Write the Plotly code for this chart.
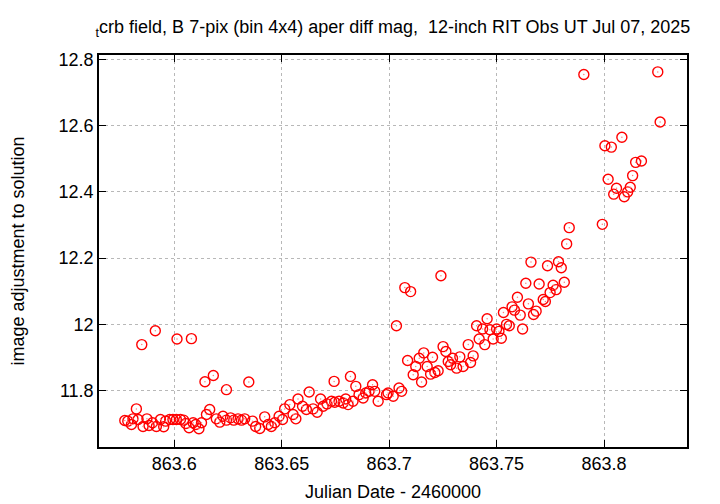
import plotly.graph_objects as go

# Julian Date - 2460000
jd = [
    863.5770, 863.5784, 863.5801, 863.5808, 863.5824, 863.5832, 863.5849, 863.5855, 863.5873, 863.5883,
    863.5899, 863.5912, 863.5917, 863.5936, 863.5951, 863.5960, 863.5979, 863.5994, 863.6010, 863.6013,
    863.6029, 863.6044, 863.6054, 863.6069, 863.6080, 863.6088, 863.6100, 863.6115, 863.6127, 863.6143,
    863.6150, 863.6165, 863.6182, 863.6196, 863.6212, 863.6227, 863.6243, 863.6243, 863.6262, 863.6277,
    863.6297, 863.6313, 863.6328, 863.6347,
    863.6364, 863.6379, 863.6398, 863.6421, 863.6437, 863.6452, 863.6468, 863.6488, 863.6504, 863.6514,
    863.6538, 863.6553, 863.6566, 863.6576, 863.6597, 863.6615, 863.6628, 863.6646, 863.6665, 863.6681,
    863.6693, 863.6711, 863.6732, 863.6744, 863.6747, 863.6767, 863.6786, 863.6798, 863.6809, 863.6820,
    863.6832, 863.6845, 863.6860, 863.6879, 863.6891, 863.6907, 863.6923, 863.6933, 863.6949, 863.6988,
    863.6995, 863.7019, 863.7034, 863.7046, 863.7058, 863.7073, 863.7086, 863.7100, 863.7112, 863.7124,
    863.7140, 863.7151, 863.7161, 863.7177, 863.7193, 863.7202, 863.7213, 863.7228, 863.7241, 863.7251,
    863.7264, 863.7275, 863.7286, 863.7295, 863.7314, 863.7329, 863.7344, 863.7368, 863.7379, 863.7391,
    863.7407, 863.7419, 863.7435, 863.7445, 863.7456, 863.7469, 863.7484, 863.7500, 863.7511, 863.7522,
    863.7532, 863.7546, 863.7559, 863.7572, 863.7583, 863.7597, 863.7610, 863.7621, 863.7636, 863.7648,
    863.7660, 863.7672, 863.7684, 863.7698, 863.7717, 863.7727, 863.7737, 863.7749, 863.7763, 863.7777,
    863.7788, 863.7801, 863.7815, 863.7826, 863.7838, 863.7906, 863.7992, 863.8004, 863.8019, 863.8034,
    863.8045, 863.8058, 863.8083, 863.8094, 863.8110, 863.8122, 863.8133, 863.8147, 863.8174, 863.8250,
    863.8261,
]

# image adjustment to solution (diff mag)
mag = [
    11.710, 11.708, 11.698, 11.715, 11.745, 11.713, 11.939, 11.692, 11.715, 11.695,
    11.703, 11.981, 11.692, 11.713, 11.691, 11.708, 11.713, 11.713, 11.713, 11.956,
    11.713, 11.711, 11.701, 11.688, 11.957, 11.703, 11.698, 11.685, 11.703, 11.827,
    11.728, 11.743, 11.846, 11.715, 11.705, 11.723, 11.803, 11.711, 11.718, 11.711,
    11.715, 11.711, 11.715, 11.826,
    11.708, 11.692, 11.686, 11.721, 11.698, 11.692, 11.703, 11.723, 11.713, 11.745,
    11.758, 11.728, 11.715, 11.775, 11.753, 11.743, 11.796, 11.745, 11.735, 11.775,
    11.753, 11.760, 11.768, 11.828, 11.765, 11.768, 11.763, 11.775, 11.758, 11.843,
    11.768, 11.813, 11.788, 11.778, 11.793, 11.798, 11.818, 11.798, 11.768, 11.788,
    11.793, 11.783, 11.996, 11.808, 11.798, 12.111, 11.891, 12.099, 11.848, 11.873,
    11.898, 11.826, 11.914, 11.873, 11.850, 11.901, 11.855, 11.860, 12.147, 11.933,
    11.918, 11.888, 11.878, 11.898, 11.868, 11.902, 11.873, 11.939, 11.885, 11.905,
    11.996, 11.956, 11.986, 11.939, 12.017, 11.984, 11.956, 11.986, 11.979, 11.958,
    12.036, 12.000, 11.996, 12.053, 12.043, 12.082, 12.028, 11.986, 12.124, 12.062,
    12.188, 12.030, 12.040, 12.122, 12.075, 12.069, 12.177, 12.096, 12.118, 12.105,
    12.189, 12.171, 12.127, 12.243, 12.292, 12.754, 12.302, 12.539, 12.438, 12.535,
    12.393, 12.411, 12.565, 12.385, 12.400, 12.414, 12.449, 12.489, 12.493, 12.762,
    12.611,
]

x_range = [863.565, 863.8386]
y_range = [11.63, 12.813]
x_ticks = [863.6, 863.65, 863.7, 863.75, 863.8]
x_tick_text = ["863.6", "863.65", "863.7", "863.75", "863.8"]
y_ticks = [11.8, 12.0, 12.2, 12.4, 12.6, 12.8]
y_tick_text = ["11.8", "12", "12.2", "12.4", "12.6", "12.8"]

title_text = ("<sub>t</sub>crb field, B 7-pix (bin 4x4) aper diff mag,\u00a0 "
              "12-inch RIT Obs UT Jul 07, 2025")
x_title = "Julian Date - 2460000"
y_title = "image adjustment to solution"

FONT = "Liberation Sans, Arial, Helvetica, sans-serif"

# the page body adds an 8 px offset; figure is sized so the plot frame
# lands at x 99..687, y 55..447 in the 720x504 window
W, H = 712, 496
ML, MR, MT, MB = 91, 33, 47, 57
PLOT_H = H - MT - MB
X_TITLE_Y = 484  # centre of the x-axis title, in figure pixels

fig = go.Figure()
fig.add_trace(go.Scatter(
    x=jd, y=mag, mode="markers",
    marker=dict(symbol="circle-open", size=10, color="#ff0000",
                line=dict(width=1.4, color="#ff0000")),
    showlegend=False, hoverinfo="x+y",
))
fig.add_trace(go.Scatter(
    x=jd, y=mag, mode="markers",
    marker=dict(symbol="circle", size=1.5, color="#ff8080"),
    showlegend=False, hoverinfo="skip",
))

axis_common = dict(
    automargin=False,
    showline=True, linecolor="black", linewidth=1.5, mirror="allticks",
    ticks="inside", ticklen=7, tickwidth=1, tickcolor="black",
    showgrid=True, gridcolor="#b8b8b8", griddash="dot", gridwidth=1,
    zeroline=False,
    tickfont=dict(family=FONT, size=18, color="black"),
)

fig.update_layout(
    template="none",
    width=W, height=H,
    margin=dict(l=ML, r=MR, t=MT, b=MB, autoexpand=False),
    paper_bgcolor="white", plot_bgcolor="white",
    font=dict(family=FONT, size=18, color="black"),
    title=dict(text=title_text, x=(ML + (W - MR)) / 2 / W, xanchor="center",
               y=1 - 19 / H, yanchor="middle",
               font=dict(family=FONT, size=18, color="black")),
    xaxis=dict(range=x_range, tickvals=x_ticks, ticktext=x_tick_text,
               **axis_common),
    yaxis=dict(range=y_range, tickvals=y_ticks, ticktext=y_tick_text,
               title=dict(text=y_title, standoff=30,
                          font=dict(family=FONT, size=18)),
               **axis_common),
    annotations=[dict(
        text=x_title, xref="paper", yref="paper",
        x=0.5, xanchor="center",
        y=-(X_TITLE_Y - (H - MB)) / PLOT_H, yanchor="middle",
        showarrow=False, font=dict(family=FONT, size=18, color="black"),
    )],
)

fig.write_html("out.html")
